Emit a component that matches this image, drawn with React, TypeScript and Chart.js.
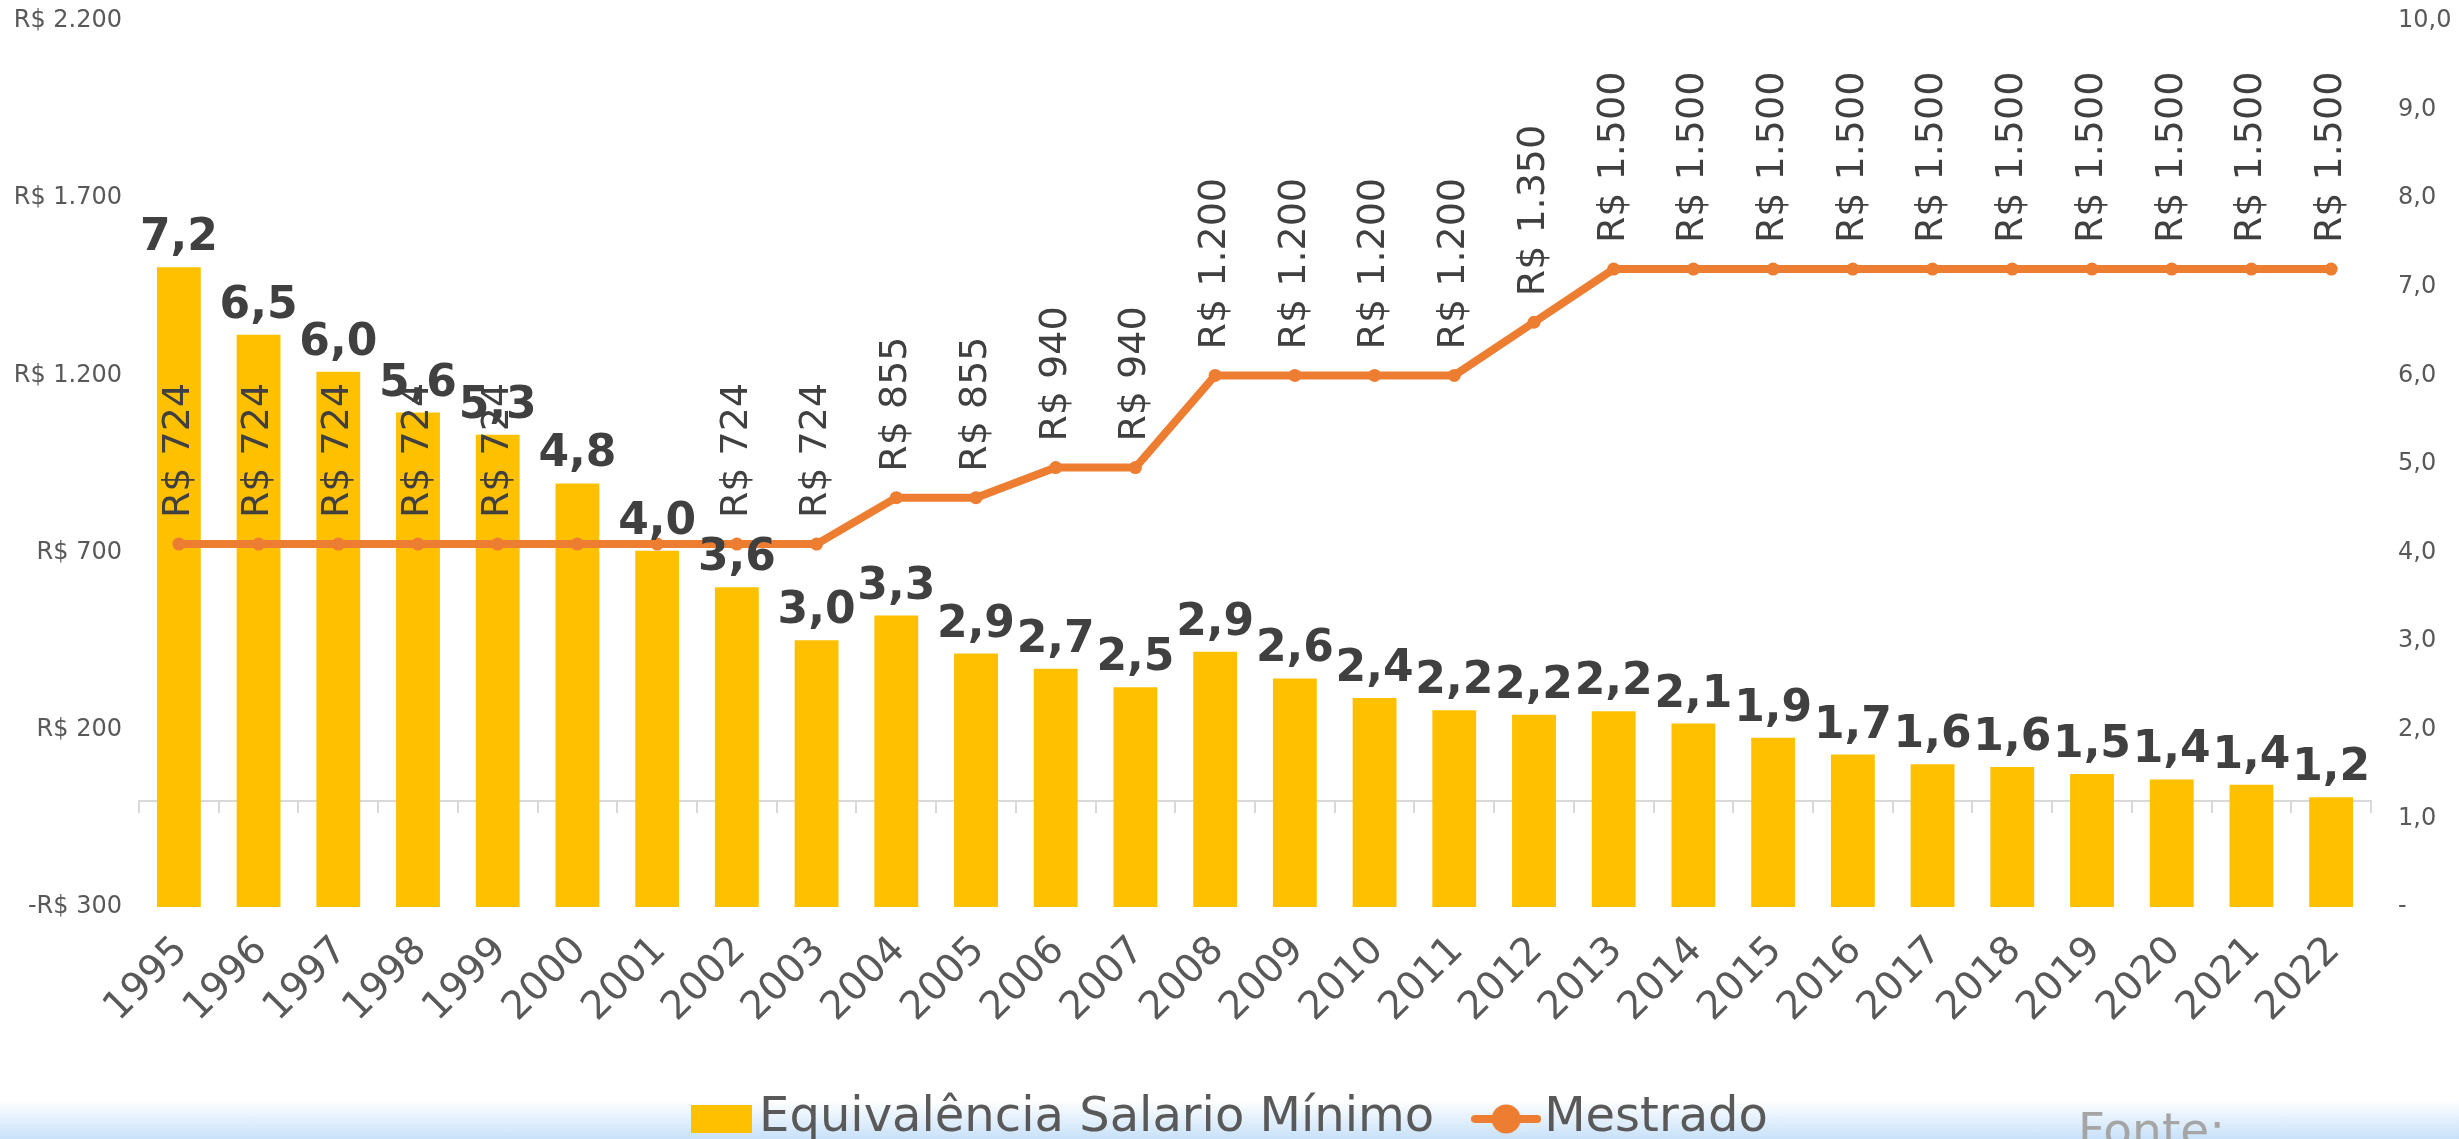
import React, { useEffect, useRef } from 'react';
import { Chart, registerables } from 'chart.js';

Chart.register(...registerables);

// ---- Data ----
const years = [
  '1995', '1996', '1997', '1998', '1999', '2000', '2001', '2002', '2003', '2004',
  '2005', '2006', '2007', '2008', '2009', '2010', '2011', '2012', '2013', '2014',
  '2015', '2016', '2017', '2018', '2019', '2020', '2021', '2022',
];

// Equivalência em salários mínimos (eixo direito)
const equivalencia = [
  7.22, 6.46, 6.04, 5.58, 5.33, 4.78, 4.02, 3.61, 3.01, 3.29,
  2.86, 2.69, 2.48, 2.88, 2.58, 2.36, 2.22, 2.17, 2.21, 2.07,
  1.91, 1.72, 1.61, 1.58, 1.50, 1.44, 1.38, 1.24,
];

// Bolsa de Mestrado em R$ (eixo esquerdo)
const mestrado = [
  724, 724, 724, 724, 724, 724, 724, 724, 724, 855,
  855, 940, 940, 1200, 1200, 1200, 1200, 1350, 1500, 1500,
  1500, 1500, 1500, 1500, 1500, 1500, 1500, 1500,
];

// Anos cujo rótulo da linha não aparece
const mestradoSemRotulo = ['2000', '2001'];

// Eixos
const eixoEsquerdo = [-300, 2200, 500]; // min, max, passo
const eixoDireito = [0, 10, 1];

const serieBarras = 'Equivalência Salario Mínimo';
const serieLinha = 'Mestrado';
const fonteTexto = 'Fonte:';

const COR_BARRA = '#FFC000';
const COR_LINHA = '#ED7D31';
const FONT = "'DejaVu Sans', sans-serif";

function fmtBRL(v: number): string {
  const abs = Math.abs(v).toString().replace(/\B(?=(\d{3})+(?!\d))/g, '.');
  return (v < 0 ? '-' : '') + 'R$ ' + abs;
}

function fmtNum(v: number): string {
  return v.toFixed(1).replace('.', ',');
}

function makeBoxImage(): HTMLCanvasElement {
  const c = document.createElement('canvas');
  c.width = 61;
  c.height = 28;
  const g = c.getContext('2d')!;
  g.fillStyle = COR_BARRA;
  g.fillRect(0, 0, 61, 28);
  return c;
}

function makeLineImage(): HTMLCanvasElement {
  const c = document.createElement('canvas');
  c.width = 70;
  c.height = 30;
  const g = c.getContext('2d')!;
  g.strokeStyle = COR_LINHA;
  g.lineWidth = 8;
  g.lineCap = 'round';
  g.beginPath();
  g.moveTo(4, 15);
  g.lineTo(66, 15);
  g.stroke();
  g.fillStyle = COR_LINHA;
  g.beginPath();
  g.arc(35, 15, 14.5, 0, Math.PI * 2);
  g.fill();
  return c;
}

const rotulosPlugin = {
  id: 'rotulos',
  afterDatasetsDraw(chart: any) {
    const ctx = chart.ctx as CanvasRenderingContext2D;
    const barMeta = chart.getDatasetMeta(0);
    const lineMeta = chart.getDatasetMeta(1);
    ctx.save();
    ctx.fillStyle = '#404040';
    // line labels (rotated)
    ctx.font = `38px ${FONT}`;
    ctx.textAlign = 'left';
    ctx.textBaseline = 'middle';
    lineMeta.data.forEach((pt: any, i: number) => {
      if (mestradoSemRotulo.includes(years[i])) return;
      ctx.save();
      ctx.translate(pt.x, pt.y - 26);
      ctx.rotate(-Math.PI / 2);
      ctx.fillText(fmtBRL(mestrado[i]), 0, 0);
      ctx.restore();
    });
    // bar labels
    ctx.font = `bold 44px ${FONT}`;
    ctx.textAlign = 'center';
    ctx.textBaseline = 'alphabetic';
    barMeta.data.forEach((bar: any, i: number) => {
      ctx.fillText(fmtNum(equivalencia[i]), bar.x, bar.y - 17);
    });
    ctx.restore();
  },
};

export default function App() {
  const canvasRef = useRef<HTMLCanvasElement | null>(null);

  useEffect(() => {
    if (!canvasRef.current) return;
    Chart.defaults.font.family = FONT;
    const boxImg = makeBoxImage();
    const lineImg = makeLineImage();

    const chart = new Chart(canvasRef.current, {
      type: 'bar',
      data: {
        labels: years,
        datasets: [
          {
            type: 'bar',
            label: serieBarras,
            data: equivalencia,
            backgroundColor: COR_BARRA,
            borderWidth: 0,
            xAxisID: 'x',
            yAxisID: 'y1',
            barPercentage: 0.55,
            categoryPercentage: 1.0,
            order: 1,
          } as any,
          {
            type: 'line',
            label: serieLinha,
            data: mestrado,
            borderColor: COR_LINHA,
            backgroundColor: COR_LINHA,
            borderWidth: 8,
            pointRadius: 6.5,
            pointHoverRadius: 6.5,
            pointBorderWidth: 0,
            pointBackgroundColor: COR_LINHA,
            tension: 0,
            xAxisID: 'x',
            yAxisID: 'y',
            order: 0,
          } as any,
        ],
      },
      options: {
        responsive: false,
        animation: false,
        devicePixelRatio: 1,
        layout: { padding: { top: 21, left: 16, right: 0, bottom: -14 } },
        plugins: {
          tooltip: { enabled: false },
          legend: {
            position: 'bottom',
            onClick: () => {},
            labels: {
              usePointStyle: true,
              pointStyleWidth: 28,
              boxWidth: 28,
              boxHeight: 28,
              padding: 58,
              color: '#595959',
              font: { size: 48, family: FONT },
              generateLabels: () => [
                {
                  text: serieBarras,
                  pointStyle: boxImg,
                  fillStyle: COR_BARRA,
                  strokeStyle: 'transparent',
                  lineWidth: 0,
                  fontColor: '#595959',
                  hidden: false,
                  datasetIndex: 0,
                } as any,
                {
                  text: serieLinha,
                  pointStyle: lineImg,
                  fillStyle: COR_LINHA,
                  strokeStyle: 'transparent',
                  lineWidth: 0,
                  fontColor: '#595959',
                  hidden: false,
                  datasetIndex: 1,
                } as any,
              ],
            },
          },
        },
        scales: {
          x: {
            type: 'category',
            position: 'bottom',
            offset: true,
            grid: { display: false, drawTicks: false },
            border: { display: false },
            ticks: {
              autoSkip: false,
              minRotation: 45,
              maxRotation: 45,
              padding: 21,
              labelOffset: 3,
              color: '#595959',
              font: { size: 39, family: FONT },
            },
            afterFit: (s: any) => {
              s.height = 130;
            },
          },
          x2: {
            type: 'category',
            axis: 'x',
            position: { y: 0 } as any,
            offset: true,
            grid: {
              offset: true,
              drawOnChartArea: false,
              drawTicks: true,
              tickLength: 11,
              color: '#d9d9d9',
              lineWidth: 2,
            },
            border: { display: true, color: '#d9d9d9', width: 2 },
            ticks: { display: false },
          } as any,
          y: {
            type: 'linear',
            position: 'left',
            min: eixoEsquerdo[0],
            max: eixoEsquerdo[1],
            grid: { display: false, drawTicks: true, tickLength: 17 },
            border: { display: false },
            ticks: {
              stepSize: eixoEsquerdo[2],
              padding: 0,
              color: '#595959',
              font: { size: 24, family: FONT },
              callback: (v: any) => fmtBRL(Number(v)),
            },
            afterFit: (s: any) => {
              s.width = 123;
            },
          },
          y1: {
            type: 'linear',
            position: 'right',
            min: eixoDireito[0],
            max: eixoDireito[1],
            grid: { display: false, drawTicks: true, tickLength: 27 },
            border: { display: false },
            ticks: {
              stepSize: eixoDireito[2],
              padding: 0,
              color: '#595959',
              font: { size: 24, family: FONT },
              callback: (v: any) => (Number(v) === 0 ? '-' : fmtNum(Number(v))),
            },
            afterFit: (s: any) => {
              s.width = 88;
            },
          },
        },
      },
      plugins: [rotulosPlugin],
    });

    return () => {
      chart.destroy();
    };
  }, []);

  return (
    <div
      style={{
        position: 'fixed',
        left: 0,
        top: 0,
        width: 2459,
        height: 1139,
        overflow: 'hidden',
        background: '#ffffff',
      }}
    >
      <div
        style={{
          position: 'absolute',
          left: 0,
          top: 1100,
          width: 2459,
          height: 39,
          background: 'linear-gradient(to bottom, #ffffff 0%, #c8e1f9 100%)',
        }}
      />
      <canvas
        ref={canvasRef}
        width={2459}
        height={1139}
        style={{ position: 'absolute', left: 0, top: 0, width: 2459, height: 1139 }}
      />
      <div
        style={{
          position: 'absolute',
          left: 2078,
          top: 1106,
          fontFamily: FONT,
          fontSize: 47,
          lineHeight: 1,
          color: '#a5a5a5',
          whiteSpace: 'nowrap',
        }}
      >
        {fonteTexto}
      </div>
    </div>
  );
}
